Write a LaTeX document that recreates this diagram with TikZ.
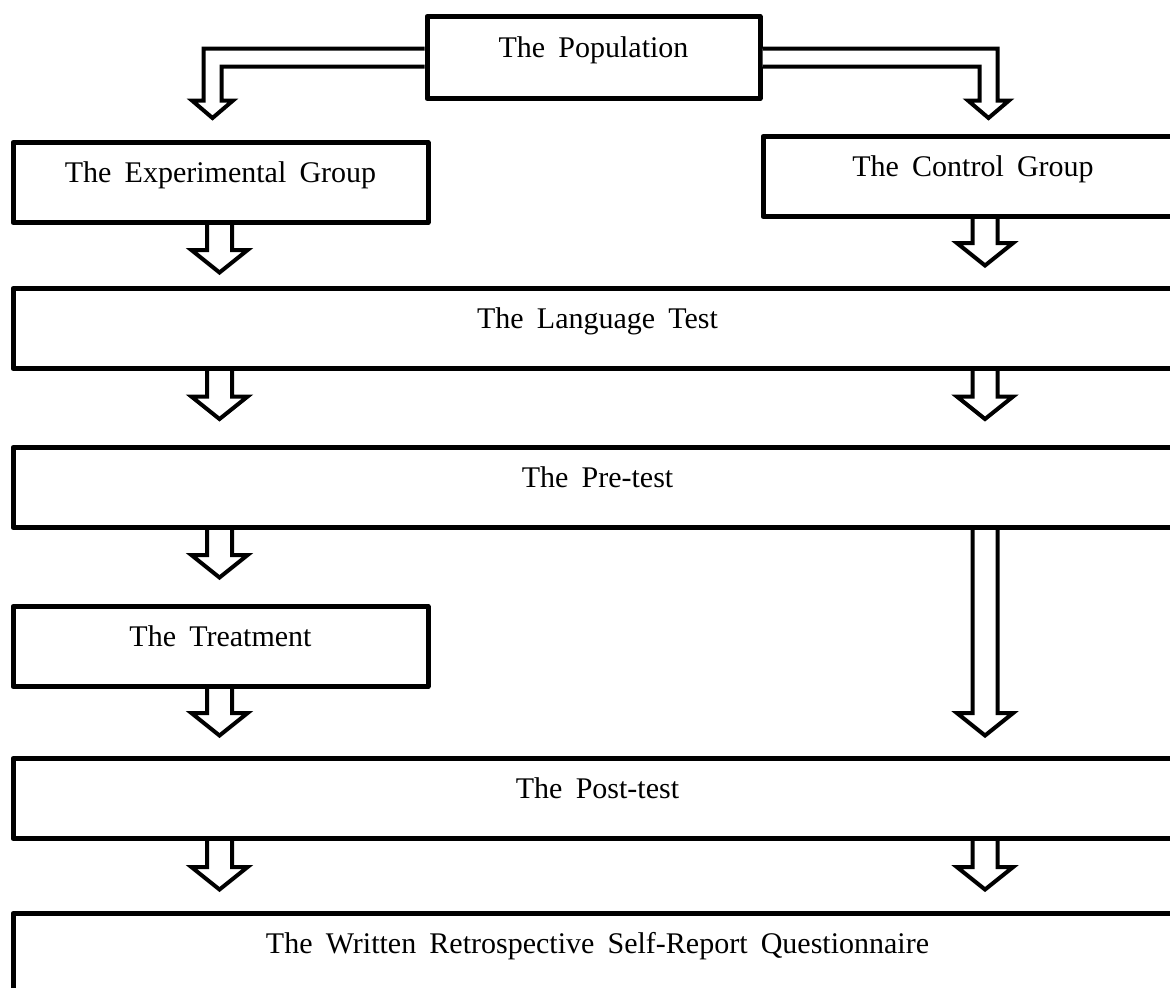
\documentclass[tikz,border=0pt]{standalone}
\usepackage{fontspec}
\setmainfont{Liberation Serif}
\usetikzlibrary{calc}

\DeclareRobustCommand\boxfont{\fontsize{15pt}{17pt}\selectfont\spaceskip=6.6pt plus 1pt\relax}

\tikzset{
  box/.style={draw, line width=2.5pt, line join=round, inner sep=0pt, anchor=north,
    text height=20pt, text depth=20pt, font=\boxfont},
  arrowbody/.style={draw, fill=white, line width=2pt, line join=miter}
}

% hollow block arrow, straight down
\newcommand\downblock[2]{%
  \path[arrowbody] let \p1=#1, \p2=#2 in
    (\x1-6.25pt,\y1) -- (\x1-6.25pt,\y2+11.2pt) -- (\x1-14pt,\y2+11.2pt) -- (\x1,\y2)
    -- (\x1+14pt,\y2+11.2pt) -- (\x1+6.25pt,\y2+11.2pt) -- (\x1+6.25pt,\y1);}

% hollow block arrow, sideways then down (#3 = side, 1 or -1)
\newcommand\bentblock[3]{%
  \path[arrowbody] let \p1=#1, \p2=#2 in
    (\x1,\y1+4.5pt) -- ({\x2+#3*4.5pt},\y1+4.5pt) -- ({\x2+#3*4.5pt},\y2+8.75pt)
    -- ({\x2+#3*10.25pt},\y2+8.75pt) -- (\x2,\y2) -- ({\x2-#3*10.25pt},\y2+8.75pt)
    -- ({\x2-#3*4.5pt},\y2+8.75pt) -- ({\x2-#3*4.5pt},\y1-4.5pt) -- (\x1,\y1-4.5pt);}

\begin{document}
\begin{tikzpicture}[x=0.5pt, y=-0.5pt]
\useasboundingbox (0,0) rectangle (1170,987);
\clip (0,0) rectangle (1170,987);

% Boxes
\node[box, minimum width=166.5pt, text height=20.5pt, text depth=20.5pt] (pop) at (593.5,14) {The Population};
\node[box, minimum width=207.5pt] (exp) at (220.5,140) {The Experimental Group};
\node[box, minimum width=210pt] (ctrl) at (973,134) {The Control Group};
\node[box, minimum width=584.5pt] (lang) at (597.5,286) {The Language Test};
\node[box, minimum width=584.5pt] (pre) at (597.5,445) {The Pre-test};
\node[box, minimum width=207.5pt] (treat) at (220.5,604) {The Treatment};
\node[box, minimum width=584.5pt] (post) at (597.5,756) {The Post-test};
\node[box, minimum width=584.5pt] (quest) at (597.5,911) {The Written Retrospective Self-Report Questionnaire};

% Columns of the arrows
\coordinate (lcol) at (219.5,0);
\coordinate (rcol) at (985,0);
\coordinate (lbend) at (212.5,0);
\coordinate (rbend) at (988.5,0);

% Arrows from the population
\bentblock{(pop.west)}{($(exp.north -| lbend)+(0,-22)$)}{-1}
\bentblock{(pop.east)}{($(ctrl.north -| rbend)+(0,-16)$)}{1}

% Arrows down
\downblock{(exp.south -| lcol)}{($(lang.north -| lcol)+(0,-13.5)$)}
\downblock{(ctrl.south -| rcol)}{($(lang.north -| rcol)+(0,-20.5)$)}
\downblock{(lang.south -| lcol)}{($(pre.north -| lcol)+(0,-26)$)}
\downblock{(lang.south -| rcol)}{($(pre.north -| rcol)+(0,-26)$)}
\downblock{(pre.south -| lcol)}{($(treat.north -| lcol)+(0,-26.5)$)}
\downblock{(pre.south -| rcol)}{($(post.north -| rcol)+(0,-20.5)$)}
\downblock{(treat.south -| lcol)}{($(post.north -| lcol)+(0,-20.5)$)}
\downblock{(post.south -| lcol)}{($(quest.north -| lcol)+(0,-21.5)$)}
\downblock{(post.south -| rcol)}{($(quest.north -| rcol)+(0,-21.5)$)}
\end{tikzpicture}
\end{document}
